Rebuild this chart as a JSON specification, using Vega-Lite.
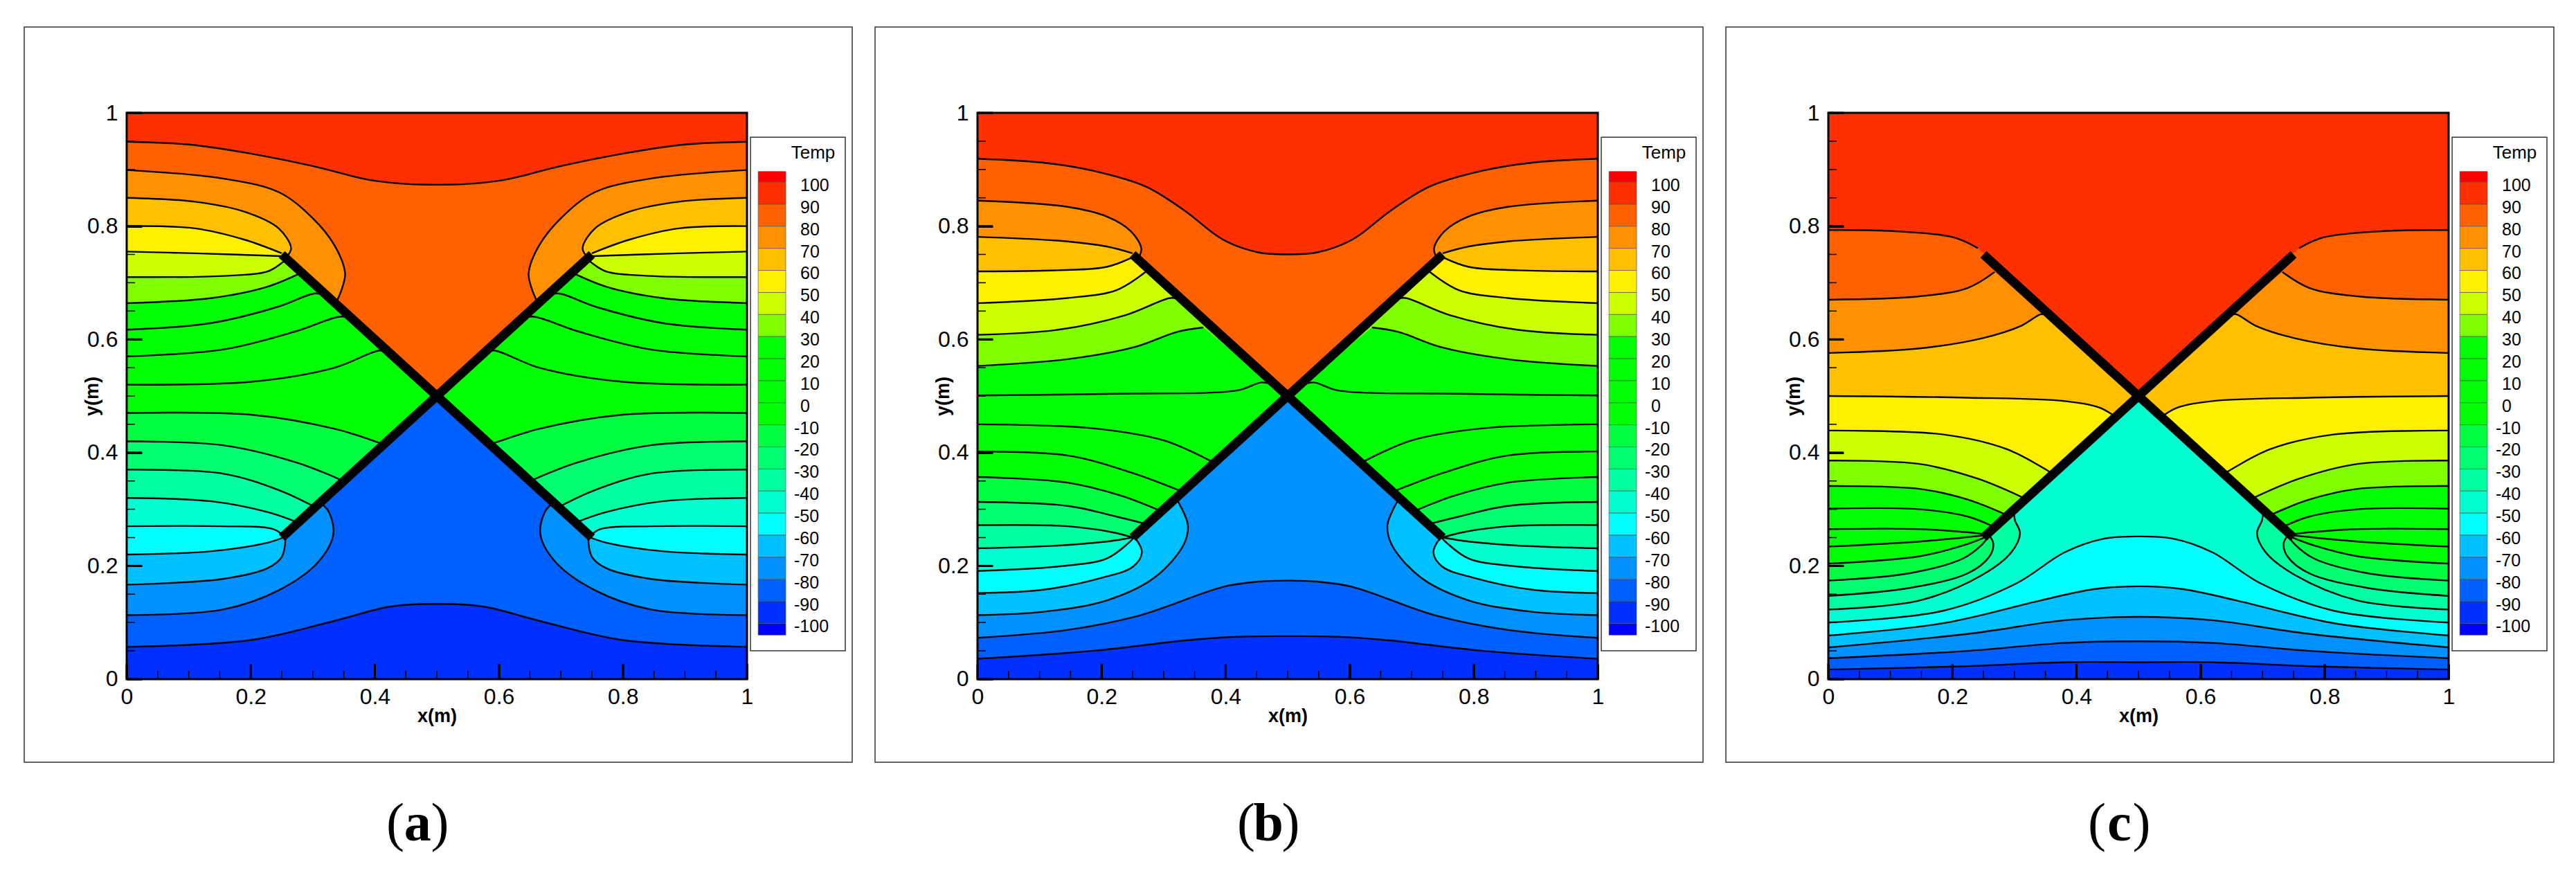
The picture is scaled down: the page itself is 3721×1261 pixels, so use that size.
{
"$schema":"https://vega.github.io/schema/vega-lite/v6.json",
"padding":{"left":34,"top":38,"right":0,"bottom":0},
"background":"white",
"config":{"view":{"stroke":"#333","strokeWidth":1.5,"fill":"white"},"font":"Liberation Sans"},
"spacing":{"column":33},
"bounds":"flush",
"resolve":{"axis":{"x":"independent","y":"independent"}},
"facet":{"column":{"field":"p","type":"nominal","header":null}},
"datasets":{
"plot":[{"l":100,"x":0,"x2":1,"y":0,"y2":1}],
"plates":[{"id":1,"x":0.25,"y":0.75},{"id":1,"x":0.75,"y":0.25},{"id":2,"x":0.25,"y":0.25},{"id":2,"x":0.75,"y":0.75}],
"xticks":[{"x":0.05,"y":0,"y2":0.0147},{"x":0.1,"y":0,"y2":0.0147},{"x":0.15,"y":0,"y2":0.0147},{"x":0.25,"y":0,"y2":0.0147},{"x":0.3,"y":0,"y2":0.0147},{"x":0.35,"y":0,"y2":0.0147},{"x":0.45,"y":0,"y2":0.0147},{"x":0.5,"y":0,"y2":0.0147},{"x":0.55,"y":0,"y2":0.0147},{"x":0.65,"y":0,"y2":0.0147},{"x":0.7,"y":0,"y2":0.0147},{"x":0.75,"y":0,"y2":0.0147},{"x":0.85,"y":0,"y2":0.0147},{"x":0.9,"y":0,"y2":0.0147},{"x":0.95,"y":0,"y2":0.0147}],
"yticks":[{"y":0.05,"x":0,"x2":0.0134},{"y":0.1,"x":0,"x2":0.0134},{"y":0.15,"x":0,"x2":0.0134},{"y":0.25,"x":0,"x2":0.0134},{"y":0.3,"x":0,"x2":0.0134},{"y":0.35,"x":0,"x2":0.0134},{"y":0.45,"x":0,"x2":0.0134},{"y":0.5,"x":0,"x2":0.0134},{"y":0.55,"x":0,"x2":0.0134},{"y":0.65,"x":0,"x2":0.0134},{"y":0.7,"x":0,"x2":0.0134},{"y":0.75,"x":0,"x2":0.0134},{"y":0.85,"x":0,"x2":0.0134},{"y":0.9,"x":0,"x2":0.0134},{"y":0.95,"x":0,"x2":0.0134}],
"xmajor":[{"x":0,"y":0,"y2":0.0269},{"x":0.2,"y":0,"y2":0.0269},{"x":0.4,"y":0,"y2":0.0269},{"x":0.6,"y":0,"y2":0.0269},{"x":0.8,"y":0,"y2":0.0269},{"x":1,"y":0,"y2":0.0269}],
"ymajor":[{"y":0,"x":0,"x2":0.0246},{"y":0.2,"x":0,"x2":0.0246},{"y":0.4,"x":0,"x2":0.0246},{"y":0.6,"x":0,"x2":0.0246},{"y":0.8,"x":0,"x2":0.0246},{"y":1,"x":0,"x2":0.0246}],
"cells":[{"l":110,"x":1.018,"x2":1.0625,"y":0.8965,"y2":0.8776},{"l":100,"x":1.018,"x2":1.0625,"y":0.8776,"y2":0.8386},{"l":90,"x":1.018,"x2":1.0625,"y":0.8386,"y2":0.7997},{"l":80,"x":1.018,"x2":1.0625,"y":0.7997,"y2":0.7607},{"l":70,"x":1.018,"x2":1.0625,"y":0.7607,"y2":0.7218},{"l":60,"x":1.018,"x2":1.0625,"y":0.7218,"y2":0.6828},{"l":50,"x":1.018,"x2":1.0625,"y":0.6828,"y2":0.6438},{"l":40,"x":1.018,"x2":1.0625,"y":0.6438,"y2":0.6049},{"l":30,"x":1.018,"x2":1.0625,"y":0.6049,"y2":0.5659},{"l":20,"x":1.018,"x2":1.0625,"y":0.5659,"y2":0.527},{"l":10,"x":1.018,"x2":1.0625,"y":0.527,"y2":0.488},{"l":0,"x":1.018,"x2":1.0625,"y":0.488,"y2":0.449},{"l":-10,"x":1.018,"x2":1.0625,"y":0.449,"y2":0.4101},{"l":-20,"x":1.018,"x2":1.0625,"y":0.4101,"y2":0.3711},{"l":-30,"x":1.018,"x2":1.0625,"y":0.3711,"y2":0.3322},{"l":-40,"x":1.018,"x2":1.0625,"y":0.3322,"y2":0.2932},{"l":-50,"x":1.018,"x2":1.0625,"y":0.2932,"y2":0.2542},{"l":-60,"x":1.018,"x2":1.0625,"y":0.2542,"y2":0.2153},{"l":-70,"x":1.018,"x2":1.0625,"y":0.2153,"y2":0.1763},{"l":-80,"x":1.018,"x2":1.0625,"y":0.1763,"y2":0.1374},{"l":-90,"x":1.018,"x2":1.0625,"y":0.1374,"y2":0.0984},{"l":-100,"x":1.018,"x2":1.0625,"y":0.0984,"y2":0.0779}],
"labels":[{"t":"100","x":1.086,"y":0.8716},{"t":"90","x":1.086,"y":0.8326},{"t":"80","x":1.086,"y":0.7937},{"t":"70","x":1.086,"y":0.7547},{"t":"60","x":1.086,"y":0.7158},{"t":"50","x":1.086,"y":0.6768},{"t":"40","x":1.086,"y":0.6378},{"t":"30","x":1.086,"y":0.5989},{"t":"20","x":1.086,"y":0.5599},{"t":"10","x":1.086,"y":0.521},{"t":"0","x":1.086,"y":0.482},{"t":"-10","x":1.0759,"y":0.443},{"t":"-20","x":1.0759,"y":0.4041},{"t":"-30","x":1.0759,"y":0.3651},{"t":"-40","x":1.0759,"y":0.3262},{"t":"-50","x":1.0759,"y":0.2872},{"t":"-60","x":1.0759,"y":0.2482},{"t":"-70","x":1.0759,"y":0.2093},{"t":"-80","x":1.0759,"y":0.1703},{"t":"-90","x":1.0759,"y":0.1314},{"t":"-100","x":1.0759,"y":0.0924}]
},
"data":{"values":[
{"p":"a","c":"(","x":0.433,"y":-0.257},{"p":"a","c":"a","x":0.469,"y":-0.257},{"p":"a","c":")","x":0.505,"y":-0.257},
{"p":"b","c":"(","x":0.433,"y":-0.257},{"p":"b","c":"b","x":0.469,"y":-0.257},{"p":"b","c":")","x":0.505,"y":-0.257},
{"p":"c","c":"(","x":0.433,"y":-0.257},{"p":"c","c":"c","x":0.469,"y":-0.257},{"p":"c","c":")","x":0.505,"y":-0.257},

{"p":"a","l":90,"x":0,"y":0.949},{"p":"a","l":90,"x":0.1,"y":0.944},{"p":"a","l":90,"x":0.2,"y":0.928},{"p":"a","l":90,"x":0.3,"y":0.906},{"p":"a","l":90,"x":0.4,"y":0.88},{"p":"a","l":90,"x":0.5,"y":0.873},{"p":"a","l":90,"x":0.6,"y":0.88},{"p":"a","l":90,"x":0.7,"y":0.906},{"p":"a","l":90,"x":0.8,"y":0.928},{"p":"a","l":90,"x":0.9,"y":0.944},{"p":"a","l":90,"x":1,"y":0.949},{"p":"a","l":90,"s":"F","x":1,"y":0.949},{"p":"a","l":90,"s":"F","x":1,"y":0},{"p":"a","l":90,"s":"F","x":1,"y":0},{"p":"a","l":90,"s":"F","x":0,"y":0},{"p":"a","l":90,"s":"F","x":0,"y":0},
{"p":"a","l":80,"x":0,"y":0.899},{"p":"a","l":80,"x":0.155,"y":0.884},{"p":"a","l":80,"x":0.245,"y":0.86},{"p":"a","l":80,"x":0.299,"y":0.815},{"p":"a","l":80,"x":0.335,"y":0.766},{"p":"a","l":80,"x":0.352,"y":0.717},{"p":"a","l":80,"x":0.348,"y":0.693},{"p":"a","l":80,"x":0.339,"y":0.668},{"p":"a","l":80,"s":"F","x":0.339,"y":0.668},{"p":"a","l":80,"s":"F","x":0.5,"y":0.5},{"p":"a","l":80,"s":"F","x":0.5,"y":0.5},{"p":"a","l":80,"s":"F","x":0.661,"y":0.668},{"p":"a","l":80,"s":"R","x":0.661,"y":0.668},{"p":"a","l":80,"s":"R","x":0.652,"y":0.693},{"p":"a","l":80,"s":"R","x":0.648,"y":0.717},{"p":"a","l":80,"s":"R","x":0.665,"y":0.766},{"p":"a","l":80,"s":"R","x":0.701,"y":0.815},{"p":"a","l":80,"s":"R","x":0.755,"y":0.86},{"p":"a","l":80,"s":"R","x":0.845,"y":0.884},{"p":"a","l":80,"s":"R","x":1,"y":0.899},{"p":"a","l":80,"s":"F","x":1,"y":0.899},{"p":"a","l":80,"s":"F","x":1,"y":0},{"p":"a","l":80,"s":"F","x":1,"y":0},{"p":"a","l":80,"s":"F","x":0,"y":0},{"p":"a","l":80,"s":"F","x":0,"y":0},
{"p":"a","l":70,"x":0,"y":0.85},{"p":"a","l":70,"x":0.11,"y":0.843},{"p":"a","l":70,"x":0.191,"y":0.825},{"p":"a","l":70,"x":0.245,"y":0.796},{"p":"a","l":70,"x":0.265,"y":0.761},{"p":"a","l":70,"x":0.258,"y":0.746},{"p":"a","l":70,"s":"F","x":0.258,"y":0.746},{"p":"a","l":70,"s":"F","x":0.5,"y":0.5},{"p":"a","l":70,"s":"F","x":0.5,"y":0.5},{"p":"a","l":70,"s":"F","x":0.742,"y":0.746},{"p":"a","l":70,"s":"R","x":0.742,"y":0.746},{"p":"a","l":70,"s":"R","x":0.735,"y":0.761},{"p":"a","l":70,"s":"R","x":0.755,"y":0.796},{"p":"a","l":70,"s":"R","x":0.809,"y":0.825},{"p":"a","l":70,"s":"R","x":0.89,"y":0.843},{"p":"a","l":70,"s":"R","x":1,"y":0.85},{"p":"a","l":70,"s":"F","x":1,"y":0.85},{"p":"a","l":70,"s":"F","x":1,"y":0},{"p":"a","l":70,"s":"F","x":1,"y":0},{"p":"a","l":70,"s":"F","x":0,"y":0},{"p":"a","l":70,"s":"F","x":0,"y":0},
{"p":"a","l":60,"x":0,"y":0.8},{"p":"a","l":60,"x":0.11,"y":0.796},{"p":"a","l":60,"x":0.19,"y":0.776},{"p":"a","l":60,"x":0.25,"y":0.752},{"p":"a","l":60,"s":"F","x":0.25,"y":0.752},{"p":"a","l":60,"s":"F","x":0.5,"y":0.5},{"p":"a","l":60,"s":"F","x":0.5,"y":0.5},{"p":"a","l":60,"s":"F","x":0.75,"y":0.752},{"p":"a","l":60,"s":"R","x":0.75,"y":0.752},{"p":"a","l":60,"s":"R","x":0.81,"y":0.776},{"p":"a","l":60,"s":"R","x":0.89,"y":0.796},{"p":"a","l":60,"s":"R","x":1,"y":0.8},{"p":"a","l":60,"s":"F","x":1,"y":0.8},{"p":"a","l":60,"s":"F","x":1,"y":0},{"p":"a","l":60,"s":"F","x":1,"y":0},{"p":"a","l":60,"s":"F","x":0,"y":0},{"p":"a","l":60,"s":"F","x":0,"y":0},
{"p":"a","l":50,"x":0,"y":0.755},{"p":"a","l":50,"x":0.11,"y":0.752},{"p":"a","l":50,"x":0.25,"y":0.747},{"p":"a","l":50,"s":"F","x":0.25,"y":0.747},{"p":"a","l":50,"s":"F","x":0.5,"y":0.5},{"p":"a","l":50,"s":"F","x":0.5,"y":0.5},{"p":"a","l":50,"s":"F","x":0.75,"y":0.747},{"p":"a","l":50,"s":"R","x":0.75,"y":0.747},{"p":"a","l":50,"s":"R","x":0.89,"y":0.752},{"p":"a","l":50,"s":"R","x":1,"y":0.755},{"p":"a","l":50,"s":"F","x":1,"y":0.755},{"p":"a","l":50,"s":"F","x":1,"y":0},{"p":"a","l":50,"s":"F","x":1,"y":0},{"p":"a","l":50,"s":"F","x":0,"y":0},{"p":"a","l":50,"s":"F","x":0,"y":0},
{"p":"a","l":40,"x":0,"y":0.71},{"p":"a","l":40,"x":0.155,"y":0.712},{"p":"a","l":40,"x":0.227,"y":0.72},{"p":"a","l":40,"x":0.25,"y":0.735},{"p":"a","l":40,"x":0.258,"y":0.742},{"p":"a","l":40,"s":"F","x":0.258,"y":0.742},{"p":"a","l":40,"s":"F","x":0.5,"y":0.5},{"p":"a","l":40,"s":"F","x":0.5,"y":0.5},{"p":"a","l":40,"s":"F","x":0.742,"y":0.742},{"p":"a","l":40,"s":"R","x":0.742,"y":0.742},{"p":"a","l":40,"s":"R","x":0.75,"y":0.735},{"p":"a","l":40,"s":"R","x":0.773,"y":0.72},{"p":"a","l":40,"s":"R","x":0.845,"y":0.712},{"p":"a","l":40,"s":"R","x":1,"y":0.71},{"p":"a","l":40,"s":"F","x":1,"y":0.71},{"p":"a","l":40,"s":"F","x":1,"y":0},{"p":"a","l":40,"s":"F","x":1,"y":0},{"p":"a","l":40,"s":"F","x":0,"y":0},{"p":"a","l":40,"s":"F","x":0,"y":0},
{"p":"a","l":30,"x":0,"y":0.664},{"p":"a","l":30,"x":0.137,"y":0.673},{"p":"a","l":30,"x":0.227,"y":0.693},{"p":"a","l":30,"x":0.282,"y":0.718},{"p":"a","l":30,"s":"F","x":0.282,"y":0.718},{"p":"a","l":30,"s":"F","x":0.5,"y":0.5},{"p":"a","l":30,"s":"F","x":0.5,"y":0.5},{"p":"a","l":30,"s":"F","x":0.718,"y":0.718},{"p":"a","l":30,"s":"R","x":0.718,"y":0.718},{"p":"a","l":30,"s":"R","x":0.773,"y":0.693},{"p":"a","l":30,"s":"R","x":0.863,"y":0.673},{"p":"a","l":30,"s":"R","x":1,"y":0.664},{"p":"a","l":30,"s":"F","x":1,"y":0.664},{"p":"a","l":30,"s":"F","x":1,"y":0},{"p":"a","l":30,"s":"F","x":1,"y":0},{"p":"a","l":30,"s":"F","x":0,"y":0},{"p":"a","l":30,"s":"F","x":0,"y":0},
{"p":"a","l":20,"x":0,"y":0.617},{"p":"a","l":20,"x":0.137,"y":0.629},{"p":"a","l":20,"x":0.245,"y":0.658},{"p":"a","l":20,"x":0.303,"y":0.681},{"p":"a","l":20,"x":0.32,"y":0.678},{"p":"a","l":20,"s":"F","x":0.32,"y":0.678},{"p":"a","l":20,"s":"F","x":0.5,"y":0.5},{"p":"a","l":20,"s":"F","x":0.5,"y":0.5},{"p":"a","l":20,"s":"F","x":0.68,"y":0.678},{"p":"a","l":20,"s":"R","x":0.68,"y":0.678},{"p":"a","l":20,"s":"R","x":0.697,"y":0.681},{"p":"a","l":20,"s":"R","x":0.755,"y":0.658},{"p":"a","l":20,"s":"R","x":0.863,"y":0.629},{"p":"a","l":20,"s":"R","x":1,"y":0.617},{"p":"a","l":20,"s":"F","x":1,"y":0.617},{"p":"a","l":20,"s":"F","x":1,"y":0},{"p":"a","l":20,"s":"F","x":1,"y":0},{"p":"a","l":20,"s":"F","x":0,"y":0},{"p":"a","l":20,"s":"F","x":0,"y":0},
{"p":"a","l":10,"x":0,"y":0.57},{"p":"a","l":10,"x":0.155,"y":0.582},{"p":"a","l":10,"x":0.272,"y":0.614},{"p":"a","l":10,"x":0.343,"y":0.64},{"p":"a","l":10,"x":0.36,"y":0.638},{"p":"a","l":10,"s":"F","x":0.36,"y":0.638},{"p":"a","l":10,"s":"F","x":0.5,"y":0.5},{"p":"a","l":10,"s":"F","x":0.5,"y":0.5},{"p":"a","l":10,"s":"F","x":0.64,"y":0.638},{"p":"a","l":10,"s":"R","x":0.64,"y":0.638},{"p":"a","l":10,"s":"R","x":0.657,"y":0.64},{"p":"a","l":10,"s":"R","x":0.728,"y":0.614},{"p":"a","l":10,"s":"R","x":0.845,"y":0.582},{"p":"a","l":10,"s":"R","x":1,"y":0.57},{"p":"a","l":10,"s":"F","x":1,"y":0.57},{"p":"a","l":10,"s":"F","x":1,"y":0},{"p":"a","l":10,"s":"F","x":1,"y":0},{"p":"a","l":10,"s":"F","x":0,"y":0},{"p":"a","l":10,"s":"F","x":0,"y":0},
{"p":"a","l":0,"x":0,"y":0.52},{"p":"a","l":0,"x":0.2,"y":0.525},{"p":"a","l":0,"x":0.335,"y":0.55},{"p":"a","l":0,"x":0.406,"y":0.58},{"p":"a","l":0,"x":0.42,"y":0.578},{"p":"a","l":0,"s":"F","x":0.42,"y":0.578},{"p":"a","l":0,"s":"F","x":0.5,"y":0.5},{"p":"a","l":0,"s":"F","x":0.5,"y":0.5},{"p":"a","l":0,"s":"F","x":0.58,"y":0.578},{"p":"a","l":0,"s":"R","x":0.58,"y":0.578},{"p":"a","l":0,"s":"R","x":0.594,"y":0.58},{"p":"a","l":0,"s":"R","x":0.665,"y":0.55},{"p":"a","l":0,"s":"R","x":0.8,"y":0.525},{"p":"a","l":0,"s":"R","x":1,"y":0.52},{"p":"a","l":0,"s":"F","x":1,"y":0.52},{"p":"a","l":0,"s":"F","x":1,"y":0},{"p":"a","l":0,"s":"F","x":1,"y":0},{"p":"a","l":0,"s":"F","x":0,"y":0},{"p":"a","l":0,"s":"F","x":0,"y":0},
{"p":"a","l":-10,"x":0,"y":0.47},{"p":"a","l":-10,"x":0.2,"y":0.467},{"p":"a","l":-10,"x":0.335,"y":0.442},{"p":"a","l":-10,"x":0.41,"y":0.416},{"p":"a","l":-10,"s":"F","x":0.41,"y":0.416},{"p":"a","l":-10,"s":"F","x":0.5,"y":0.5},{"p":"a","l":-10,"s":"F","x":0.5,"y":0.5},{"p":"a","l":-10,"s":"F","x":0.59,"y":0.416},{"p":"a","l":-10,"s":"R","x":0.59,"y":0.416},{"p":"a","l":-10,"s":"R","x":0.665,"y":0.442},{"p":"a","l":-10,"s":"R","x":0.8,"y":0.467},{"p":"a","l":-10,"s":"R","x":1,"y":0.47},{"p":"a","l":-10,"s":"F","x":1,"y":0.47},{"p":"a","l":-10,"s":"F","x":1,"y":0},{"p":"a","l":-10,"s":"F","x":1,"y":0},{"p":"a","l":-10,"s":"F","x":0,"y":0},{"p":"a","l":-10,"s":"F","x":0,"y":0},
{"p":"a","l":-20,"x":0,"y":0.42},{"p":"a","l":-20,"x":0.155,"y":0.413},{"p":"a","l":-20,"x":0.272,"y":0.383},{"p":"a","l":-20,"x":0.345,"y":0.352},{"p":"a","l":-20,"s":"F","x":0.345,"y":0.352},{"p":"a","l":-20,"s":"F","x":0.5,"y":0.5},{"p":"a","l":-20,"s":"F","x":0.5,"y":0.5},{"p":"a","l":-20,"s":"F","x":0.655,"y":0.352},{"p":"a","l":-20,"s":"R","x":0.655,"y":0.352},{"p":"a","l":-20,"s":"R","x":0.728,"y":0.383},{"p":"a","l":-20,"s":"R","x":0.845,"y":0.413},{"p":"a","l":-20,"s":"R","x":1,"y":0.42},{"p":"a","l":-20,"s":"F","x":1,"y":0.42},{"p":"a","l":-20,"s":"F","x":1,"y":0},{"p":"a","l":-20,"s":"F","x":1,"y":0},{"p":"a","l":-20,"s":"F","x":0,"y":0},{"p":"a","l":-20,"s":"F","x":0,"y":0},
{"p":"a","l":-30,"x":0,"y":0.37},{"p":"a","l":-30,"x":0.155,"y":0.363},{"p":"a","l":-30,"x":0.245,"y":0.334},{"p":"a","l":-30,"x":0.3,"y":0.306},{"p":"a","l":-30,"s":"F","x":0.3,"y":0.306},{"p":"a","l":-30,"s":"F","x":0.5,"y":0.5},{"p":"a","l":-30,"s":"F","x":0.5,"y":0.5},{"p":"a","l":-30,"s":"F","x":0.7,"y":0.306},{"p":"a","l":-30,"s":"R","x":0.7,"y":0.306},{"p":"a","l":-30,"s":"R","x":0.755,"y":0.334},{"p":"a","l":-30,"s":"R","x":0.845,"y":0.363},{"p":"a","l":-30,"s":"R","x":1,"y":0.37},{"p":"a","l":-30,"s":"F","x":1,"y":0.37},{"p":"a","l":-30,"s":"F","x":1,"y":0},{"p":"a","l":-30,"s":"F","x":1,"y":0},{"p":"a","l":-30,"s":"F","x":0,"y":0},{"p":"a","l":-30,"s":"F","x":0,"y":0},
{"p":"a","l":-40,"x":0,"y":0.32},{"p":"a","l":-40,"x":0.137,"y":0.314},{"p":"a","l":-40,"x":0.227,"y":0.295},{"p":"a","l":-40,"x":0.275,"y":0.277},{"p":"a","l":-40,"s":"F","x":0.275,"y":0.277},{"p":"a","l":-40,"s":"F","x":0.5,"y":0.5},{"p":"a","l":-40,"s":"F","x":0.5,"y":0.5},{"p":"a","l":-40,"s":"F","x":0.725,"y":0.277},{"p":"a","l":-40,"s":"R","x":0.725,"y":0.277},{"p":"a","l":-40,"s":"R","x":0.773,"y":0.295},{"p":"a","l":-40,"s":"R","x":0.863,"y":0.314},{"p":"a","l":-40,"s":"R","x":1,"y":0.32},{"p":"a","l":-40,"s":"F","x":1,"y":0.32},{"p":"a","l":-40,"s":"F","x":1,"y":0},{"p":"a","l":-40,"s":"F","x":1,"y":0},{"p":"a","l":-40,"s":"F","x":0,"y":0},{"p":"a","l":-40,"s":"F","x":0,"y":0},
{"p":"a","l":-50,"x":0,"y":0.27},{"p":"a","l":-50,"x":0.155,"y":0.27},{"p":"a","l":-50,"x":0.236,"y":0.265},{"p":"a","l":-50,"x":0.254,"y":0.252},{"p":"a","l":-50,"s":"F","x":0.254,"y":0.252},{"p":"a","l":-50,"s":"F","x":0.5,"y":0.5},{"p":"a","l":-50,"s":"F","x":0.5,"y":0.5},{"p":"a","l":-50,"s":"F","x":0.746,"y":0.252},{"p":"a","l":-50,"s":"R","x":0.746,"y":0.252},{"p":"a","l":-50,"s":"R","x":0.764,"y":0.265},{"p":"a","l":-50,"s":"R","x":0.845,"y":0.27},{"p":"a","l":-50,"s":"R","x":1,"y":0.27},{"p":"a","l":-50,"s":"F","x":1,"y":0.27},{"p":"a","l":-50,"s":"F","x":1,"y":0},{"p":"a","l":-50,"s":"F","x":1,"y":0},{"p":"a","l":-50,"s":"F","x":0,"y":0},{"p":"a","l":-50,"s":"F","x":0,"y":0},
{"p":"a","l":-60,"x":0,"y":0.22},{"p":"a","l":-60,"x":0.137,"y":0.226},{"p":"a","l":-60,"x":0.227,"y":0.241},{"p":"a","l":-60,"x":0.252,"y":0.25},{"p":"a","l":-60,"s":"F","x":0.252,"y":0.25},{"p":"a","l":-60,"s":"F","x":0.5,"y":0.5},{"p":"a","l":-60,"s":"F","x":0.5,"y":0.5},{"p":"a","l":-60,"s":"F","x":0.748,"y":0.25},{"p":"a","l":-60,"s":"R","x":0.748,"y":0.25},{"p":"a","l":-60,"s":"R","x":0.773,"y":0.241},{"p":"a","l":-60,"s":"R","x":0.863,"y":0.226},{"p":"a","l":-60,"s":"R","x":1,"y":0.22},{"p":"a","l":-60,"s":"F","x":1,"y":0.22},{"p":"a","l":-60,"s":"F","x":1,"y":0},{"p":"a","l":-60,"s":"F","x":1,"y":0},{"p":"a","l":-60,"s":"F","x":0,"y":0},{"p":"a","l":-60,"s":"F","x":0,"y":0},
{"p":"a","l":-70,"x":0,"y":0.167},{"p":"a","l":-70,"x":0.155,"y":0.177},{"p":"a","l":-70,"x":0.227,"y":0.196},{"p":"a","l":-70,"x":0.25,"y":0.216},{"p":"a","l":-70,"x":0.256,"y":0.248},{"p":"a","l":-70,"s":"F","x":0.256,"y":0.248},{"p":"a","l":-70,"s":"F","x":0.5,"y":0.5},{"p":"a","l":-70,"s":"F","x":0.5,"y":0.5},{"p":"a","l":-70,"s":"F","x":0.744,"y":0.248},{"p":"a","l":-70,"s":"R","x":0.744,"y":0.248},{"p":"a","l":-70,"s":"R","x":0.75,"y":0.216},{"p":"a","l":-70,"s":"R","x":0.773,"y":0.196},{"p":"a","l":-70,"s":"R","x":0.845,"y":0.177},{"p":"a","l":-70,"s":"R","x":1,"y":0.167},{"p":"a","l":-70,"s":"F","x":1,"y":0.167},{"p":"a","l":-70,"s":"F","x":1,"y":0},{"p":"a","l":-70,"s":"F","x":1,"y":0},{"p":"a","l":-70,"s":"F","x":0,"y":0},{"p":"a","l":-70,"s":"F","x":0,"y":0},
{"p":"a","l":-80,"x":0,"y":0.113},{"p":"a","l":-80,"x":0.155,"y":0.123},{"p":"a","l":-80,"x":0.245,"y":0.157},{"p":"a","l":-80,"x":0.308,"y":0.206},{"p":"a","l":-80,"x":0.333,"y":0.255},{"p":"a","l":-80,"x":0.326,"y":0.295},{"p":"a","l":-80,"x":0.312,"y":0.312},{"p":"a","l":-80,"s":"F","x":0.312,"y":0.312},{"p":"a","l":-80,"s":"F","x":0.5,"y":0.5},{"p":"a","l":-80,"s":"F","x":0.5,"y":0.5},{"p":"a","l":-80,"s":"F","x":0.688,"y":0.312},{"p":"a","l":-80,"s":"R","x":0.688,"y":0.312},{"p":"a","l":-80,"s":"R","x":0.674,"y":0.295},{"p":"a","l":-80,"s":"R","x":0.667,"y":0.255},{"p":"a","l":-80,"s":"R","x":0.692,"y":0.206},{"p":"a","l":-80,"s":"R","x":0.755,"y":0.157},{"p":"a","l":-80,"s":"R","x":0.845,"y":0.123},{"p":"a","l":-80,"s":"R","x":1,"y":0.113},{"p":"a","l":-80,"s":"F","x":1,"y":0.113},{"p":"a","l":-80,"s":"F","x":1,"y":0},{"p":"a","l":-80,"s":"F","x":1,"y":0},{"p":"a","l":-80,"s":"F","x":0,"y":0},{"p":"a","l":-80,"s":"F","x":0,"y":0},
{"p":"a","l":-90,"x":0,"y":0.057},{"p":"a","l":-90,"x":0.2,"y":0.069},{"p":"a","l":-90,"x":0.335,"y":0.103},{"p":"a","l":-90,"x":0.424,"y":0.128},{"p":"a","l":-90,"x":0.5,"y":0.133},{"p":"a","l":-90,"x":0.576,"y":0.128},{"p":"a","l":-90,"x":0.665,"y":0.103},{"p":"a","l":-90,"x":0.8,"y":0.069},{"p":"a","l":-90,"x":1,"y":0.057},{"p":"a","l":-90,"s":"F","x":1,"y":0.057},{"p":"a","l":-90,"s":"F","x":1,"y":0},{"p":"a","l":-90,"s":"F","x":1,"y":0},{"p":"a","l":-90,"s":"F","x":0,"y":0},{"p":"a","l":-90,"s":"F","x":0,"y":0},

{"p":"b","l":90,"x":0,"y":0.919},{"p":"b","l":90,"x":0.106,"y":0.912},{"p":"b","l":90,"x":0.185,"y":0.898},{"p":"b","l":90,"x":0.271,"y":0.87},{"p":"b","l":90,"x":0.333,"y":0.828},{"p":"b","l":90,"x":0.396,"y":0.776},{"p":"b","l":90,"x":0.451,"y":0.754},{"p":"b","l":90,"x":0.5,"y":0.75},{"p":"b","l":90,"x":0.549,"y":0.754},{"p":"b","l":90,"x":0.604,"y":0.776},{"p":"b","l":90,"x":0.667,"y":0.828},{"p":"b","l":90,"x":0.729,"y":0.87},{"p":"b","l":90,"x":0.815,"y":0.898},{"p":"b","l":90,"x":0.894,"y":0.912},{"p":"b","l":90,"x":1,"y":0.919},{"p":"b","l":90,"s":"F","x":1,"y":0.919},{"p":"b","l":90,"s":"F","x":1,"y":0},{"p":"b","l":90,"s":"F","x":1,"y":0},{"p":"b","l":90,"s":"F","x":0,"y":0},{"p":"b","l":90,"s":"F","x":0,"y":0},
{"p":"b","l":80,"x":0,"y":0.845},{"p":"b","l":80,"x":0.145,"y":0.834},{"p":"b","l":80,"x":0.208,"y":0.817},{"p":"b","l":80,"x":0.247,"y":0.791},{"p":"b","l":80,"x":0.264,"y":0.761},{"p":"b","l":80,"x":0.26,"y":0.745},{"p":"b","l":80,"s":"F","x":0.26,"y":0.745},{"p":"b","l":80,"s":"F","x":0.5,"y":0.5},{"p":"b","l":80,"s":"F","x":0.5,"y":0.5},{"p":"b","l":80,"s":"F","x":0.74,"y":0.745},{"p":"b","l":80,"s":"R","x":0.74,"y":0.745},{"p":"b","l":80,"s":"R","x":0.736,"y":0.761},{"p":"b","l":80,"s":"R","x":0.753,"y":0.791},{"p":"b","l":80,"s":"R","x":0.792,"y":0.817},{"p":"b","l":80,"s":"R","x":0.855,"y":0.834},{"p":"b","l":80,"s":"R","x":1,"y":0.845},{"p":"b","l":80,"s":"F","x":1,"y":0.845},{"p":"b","l":80,"s":"F","x":1,"y":0},{"p":"b","l":80,"s":"F","x":1,"y":0},{"p":"b","l":80,"s":"F","x":0,"y":0},{"p":"b","l":80,"s":"F","x":0,"y":0},
{"p":"b","l":70,"x":0,"y":0.781},{"p":"b","l":70,"x":0.145,"y":0.773},{"p":"b","l":70,"x":0.208,"y":0.764},{"p":"b","l":70,"x":0.25,"y":0.752},{"p":"b","l":70,"s":"F","x":0.25,"y":0.752},{"p":"b","l":70,"s":"F","x":0.5,"y":0.5},{"p":"b","l":70,"s":"F","x":0.5,"y":0.5},{"p":"b","l":70,"s":"F","x":0.75,"y":0.752},{"p":"b","l":70,"s":"R","x":0.75,"y":0.752},{"p":"b","l":70,"s":"R","x":0.792,"y":0.764},{"p":"b","l":70,"s":"R","x":0.855,"y":0.773},{"p":"b","l":70,"s":"R","x":1,"y":0.781},{"p":"b","l":70,"s":"F","x":1,"y":0.781},{"p":"b","l":70,"s":"F","x":1,"y":0},{"p":"b","l":70,"s":"F","x":1,"y":0},{"p":"b","l":70,"s":"F","x":0,"y":0},{"p":"b","l":70,"s":"F","x":0,"y":0},
{"p":"b","l":60,"x":0,"y":0.72},{"p":"b","l":60,"x":0.13,"y":0.722},{"p":"b","l":60,"x":0.208,"y":0.728},{"p":"b","l":60,"x":0.25,"y":0.745},{"p":"b","l":60,"s":"F","x":0.25,"y":0.745},{"p":"b","l":60,"s":"F","x":0.5,"y":0.5},{"p":"b","l":60,"s":"F","x":0.5,"y":0.5},{"p":"b","l":60,"s":"F","x":0.75,"y":0.745},{"p":"b","l":60,"s":"R","x":0.75,"y":0.745},{"p":"b","l":60,"s":"R","x":0.792,"y":0.728},{"p":"b","l":60,"s":"R","x":0.87,"y":0.722},{"p":"b","l":60,"s":"R","x":1,"y":0.72},{"p":"b","l":60,"s":"F","x":1,"y":0.72},{"p":"b","l":60,"s":"F","x":1,"y":0},{"p":"b","l":60,"s":"F","x":1,"y":0},{"p":"b","l":60,"s":"F","x":0,"y":0},{"p":"b","l":60,"s":"F","x":0,"y":0},
{"p":"b","l":50,"x":0,"y":0.664},{"p":"b","l":50,"x":0.145,"y":0.673},{"p":"b","l":50,"x":0.224,"y":0.687},{"p":"b","l":50,"x":0.272,"y":0.72},{"p":"b","l":50,"s":"F","x":0.272,"y":0.72},{"p":"b","l":50,"s":"F","x":0.5,"y":0.5},{"p":"b","l":50,"s":"F","x":0.5,"y":0.5},{"p":"b","l":50,"s":"F","x":0.728,"y":0.72},{"p":"b","l":50,"s":"R","x":0.728,"y":0.72},{"p":"b","l":50,"s":"R","x":0.776,"y":0.687},{"p":"b","l":50,"s":"R","x":0.855,"y":0.673},{"p":"b","l":50,"s":"R","x":1,"y":0.664},{"p":"b","l":50,"s":"F","x":1,"y":0.664},{"p":"b","l":50,"s":"F","x":1,"y":0},{"p":"b","l":50,"s":"F","x":1,"y":0},{"p":"b","l":50,"s":"F","x":0,"y":0},{"p":"b","l":50,"s":"F","x":0,"y":0},
{"p":"b","l":40,"x":0,"y":0.608},{"p":"b","l":40,"x":0.13,"y":0.617},{"p":"b","l":40,"x":0.239,"y":0.643},{"p":"b","l":40,"x":0.31,"y":0.673},{"p":"b","l":40,"x":0.322,"y":0.672},{"p":"b","l":40,"s":"F","x":0.322,"y":0.672},{"p":"b","l":40,"s":"F","x":0.5,"y":0.5},{"p":"b","l":40,"s":"F","x":0.5,"y":0.5},{"p":"b","l":40,"s":"F","x":0.678,"y":0.672},{"p":"b","l":40,"s":"R","x":0.678,"y":0.672},{"p":"b","l":40,"s":"R","x":0.69,"y":0.673},{"p":"b","l":40,"s":"R","x":0.761,"y":0.643},{"p":"b","l":40,"s":"R","x":0.87,"y":0.617},{"p":"b","l":40,"s":"R","x":1,"y":0.608},{"p":"b","l":40,"s":"F","x":1,"y":0.608},{"p":"b","l":40,"s":"F","x":1,"y":0},{"p":"b","l":40,"s":"F","x":1,"y":0},{"p":"b","l":40,"s":"F","x":0,"y":0},{"p":"b","l":40,"s":"F","x":0,"y":0},
{"p":"b","l":30,"x":0,"y":0.553},{"p":"b","l":30,"x":0.145,"y":0.565},{"p":"b","l":30,"x":0.255,"y":0.587},{"p":"b","l":30,"x":0.321,"y":0.613},{"p":"b","l":30,"x":0.364,"y":0.621},{"p":"b","l":30,"s":"F","x":0.364,"y":0.621},{"p":"b","l":30,"s":"F","x":0.5,"y":0.5},{"p":"b","l":30,"s":"F","x":0.5,"y":0.5},{"p":"b","l":30,"s":"F","x":0.636,"y":0.621},{"p":"b","l":30,"s":"R","x":0.636,"y":0.621},{"p":"b","l":30,"s":"R","x":0.679,"y":0.613},{"p":"b","l":30,"s":"R","x":0.745,"y":0.587},{"p":"b","l":30,"s":"R","x":0.855,"y":0.565},{"p":"b","l":30,"s":"R","x":1,"y":0.553},{"p":"b","l":30,"s":"F","x":1,"y":0.553},{"p":"b","l":30,"s":"F","x":1,"y":0},{"p":"b","l":30,"s":"F","x":1,"y":0},{"p":"b","l":30,"s":"F","x":0,"y":0},{"p":"b","l":30,"s":"F","x":0,"y":0},
{"p":"b","l":20,"x":0,"y":0.501},{"p":"b","l":20,"x":0.224,"y":0.504},{"p":"b","l":20,"x":0.419,"y":0.51},{"p":"b","l":20,"x":0.458,"y":0.524},{"p":"b","l":20,"x":0.475,"y":0.52},{"p":"b","l":20,"s":"F","x":0.475,"y":0.52},{"p":"b","l":20,"s":"F","x":0.5,"y":0.5},{"p":"b","l":20,"s":"F","x":0.5,"y":0.5},{"p":"b","l":20,"s":"F","x":0.525,"y":0.52},{"p":"b","l":20,"s":"R","x":0.525,"y":0.52},{"p":"b","l":20,"s":"R","x":0.542,"y":0.524},{"p":"b","l":20,"s":"R","x":0.581,"y":0.51},{"p":"b","l":20,"s":"R","x":0.776,"y":0.504},{"p":"b","l":20,"s":"R","x":1,"y":0.501},{"p":"b","l":20,"s":"F","x":1,"y":0.501},{"p":"b","l":20,"s":"F","x":1,"y":0},{"p":"b","l":20,"s":"F","x":1,"y":0},{"p":"b","l":20,"s":"F","x":0,"y":0},{"p":"b","l":20,"s":"F","x":0,"y":0},
{"p":"b","l":10,"x":0,"y":0.45},{"p":"b","l":10,"x":0.185,"y":0.443},{"p":"b","l":10,"x":0.302,"y":0.421},{"p":"b","l":10,"x":0.378,"y":0.384},{"p":"b","l":10,"s":"F","x":0.378,"y":0.384},{"p":"b","l":10,"s":"F","x":0.5,"y":0.5},{"p":"b","l":10,"s":"F","x":0.5,"y":0.5},{"p":"b","l":10,"s":"F","x":0.622,"y":0.384},{"p":"b","l":10,"s":"R","x":0.622,"y":0.384},{"p":"b","l":10,"s":"R","x":0.698,"y":0.421},{"p":"b","l":10,"s":"R","x":0.815,"y":0.443},{"p":"b","l":10,"s":"R","x":1,"y":0.45},{"p":"b","l":10,"s":"F","x":1,"y":0.45},{"p":"b","l":10,"s":"F","x":1,"y":0},{"p":"b","l":10,"s":"F","x":1,"y":0},{"p":"b","l":10,"s":"F","x":0,"y":0},{"p":"b","l":10,"s":"F","x":0,"y":0},
{"p":"b","l":0,"x":0,"y":0.402},{"p":"b","l":0,"x":0.145,"y":0.395},{"p":"b","l":0,"x":0.247,"y":0.365},{"p":"b","l":0,"x":0.328,"y":0.332},{"p":"b","l":0,"s":"F","x":0.328,"y":0.332},{"p":"b","l":0,"s":"F","x":0.5,"y":0.5},{"p":"b","l":0,"s":"F","x":0.5,"y":0.5},{"p":"b","l":0,"s":"F","x":0.672,"y":0.332},{"p":"b","l":0,"s":"R","x":0.672,"y":0.332},{"p":"b","l":0,"s":"R","x":0.753,"y":0.365},{"p":"b","l":0,"s":"R","x":0.855,"y":0.395},{"p":"b","l":0,"s":"R","x":1,"y":0.402},{"p":"b","l":0,"s":"F","x":1,"y":0.402},{"p":"b","l":0,"s":"F","x":1,"y":0},{"p":"b","l":0,"s":"F","x":1,"y":0},{"p":"b","l":0,"s":"F","x":0,"y":0},{"p":"b","l":0,"s":"F","x":0,"y":0},
{"p":"b","l":-10,"x":0,"y":0.357},{"p":"b","l":-10,"x":0.145,"y":0.347},{"p":"b","l":-10,"x":0.231,"y":0.324},{"p":"b","l":-10,"x":0.295,"y":0.297},{"p":"b","l":-10,"s":"F","x":0.295,"y":0.297},{"p":"b","l":-10,"s":"F","x":0.5,"y":0.5},{"p":"b","l":-10,"s":"F","x":0.5,"y":0.5},{"p":"b","l":-10,"s":"F","x":0.705,"y":0.297},{"p":"b","l":-10,"s":"R","x":0.705,"y":0.297},{"p":"b","l":-10,"s":"R","x":0.769,"y":0.324},{"p":"b","l":-10,"s":"R","x":0.855,"y":0.347},{"p":"b","l":-10,"s":"R","x":1,"y":0.357},{"p":"b","l":-10,"s":"F","x":1,"y":0.357},{"p":"b","l":-10,"s":"F","x":1,"y":0},{"p":"b","l":-10,"s":"F","x":1,"y":0},{"p":"b","l":-10,"s":"F","x":0,"y":0},{"p":"b","l":-10,"s":"F","x":0,"y":0},
{"p":"b","l":-20,"x":0,"y":0.313},{"p":"b","l":-20,"x":0.145,"y":0.306},{"p":"b","l":-20,"x":0.224,"y":0.287},{"p":"b","l":-20,"x":0.272,"y":0.274},{"p":"b","l":-20,"s":"F","x":0.272,"y":0.274},{"p":"b","l":-20,"s":"F","x":0.5,"y":0.5},{"p":"b","l":-20,"s":"F","x":0.5,"y":0.5},{"p":"b","l":-20,"s":"F","x":0.728,"y":0.274},{"p":"b","l":-20,"s":"R","x":0.728,"y":0.274},{"p":"b","l":-20,"s":"R","x":0.776,"y":0.287},{"p":"b","l":-20,"s":"R","x":0.855,"y":0.306},{"p":"b","l":-20,"s":"R","x":1,"y":0.313},{"p":"b","l":-20,"s":"F","x":1,"y":0.313},{"p":"b","l":-20,"s":"F","x":1,"y":0},{"p":"b","l":-20,"s":"F","x":1,"y":0},{"p":"b","l":-20,"s":"F","x":0,"y":0},{"p":"b","l":-20,"s":"F","x":0,"y":0},
{"p":"b","l":-30,"x":0,"y":0.272},{"p":"b","l":-30,"x":0.145,"y":0.27},{"p":"b","l":-30,"x":0.224,"y":0.258},{"p":"b","l":-30,"x":0.25,"y":0.25},{"p":"b","l":-30,"s":"F","x":0.25,"y":0.25},{"p":"b","l":-30,"s":"F","x":0.5,"y":0.5},{"p":"b","l":-30,"s":"F","x":0.5,"y":0.5},{"p":"b","l":-30,"s":"F","x":0.75,"y":0.25},{"p":"b","l":-30,"s":"R","x":0.75,"y":0.25},{"p":"b","l":-30,"s":"R","x":0.776,"y":0.258},{"p":"b","l":-30,"s":"R","x":0.855,"y":0.27},{"p":"b","l":-30,"s":"R","x":1,"y":0.272},{"p":"b","l":-30,"s":"F","x":1,"y":0.272},{"p":"b","l":-30,"s":"F","x":1,"y":0},{"p":"b","l":-30,"s":"F","x":1,"y":0},{"p":"b","l":-30,"s":"F","x":0,"y":0},{"p":"b","l":-30,"s":"F","x":0,"y":0},
{"p":"b","l":-40,"x":0,"y":0.231},{"p":"b","l":-40,"x":0.13,"y":0.236},{"p":"b","l":-40,"x":0.208,"y":0.243},{"p":"b","l":-40,"x":0.25,"y":0.25},{"p":"b","l":-40,"s":"F","x":0.25,"y":0.25},{"p":"b","l":-40,"s":"F","x":0.5,"y":0.5},{"p":"b","l":-40,"s":"F","x":0.5,"y":0.5},{"p":"b","l":-40,"s":"F","x":0.75,"y":0.25},{"p":"b","l":-40,"s":"R","x":0.75,"y":0.25},{"p":"b","l":-40,"s":"R","x":0.792,"y":0.243},{"p":"b","l":-40,"s":"R","x":0.87,"y":0.236},{"p":"b","l":-40,"s":"R","x":1,"y":0.231},{"p":"b","l":-40,"s":"F","x":1,"y":0.231},{"p":"b","l":-40,"s":"F","x":1,"y":0},{"p":"b","l":-40,"s":"F","x":1,"y":0},{"p":"b","l":-40,"s":"F","x":0,"y":0},{"p":"b","l":-40,"s":"F","x":0,"y":0},
{"p":"b","l":-50,"x":0,"y":0.191},{"p":"b","l":-50,"x":0.13,"y":0.199},{"p":"b","l":-50,"x":0.208,"y":0.213},{"p":"b","l":-50,"x":0.243,"y":0.24},{"p":"b","l":-50,"x":0.252,"y":0.25},{"p":"b","l":-50,"s":"F","x":0.252,"y":0.25},{"p":"b","l":-50,"s":"F","x":0.5,"y":0.5},{"p":"b","l":-50,"s":"F","x":0.5,"y":0.5},{"p":"b","l":-50,"s":"F","x":0.748,"y":0.25},{"p":"b","l":-50,"s":"R","x":0.748,"y":0.25},{"p":"b","l":-50,"s":"R","x":0.757,"y":0.24},{"p":"b","l":-50,"s":"R","x":0.792,"y":0.213},{"p":"b","l":-50,"s":"R","x":0.87,"y":0.199},{"p":"b","l":-50,"s":"R","x":1,"y":0.191},{"p":"b","l":-50,"s":"F","x":1,"y":0.191},{"p":"b","l":-50,"s":"F","x":1,"y":0},{"p":"b","l":-50,"s":"F","x":1,"y":0},{"p":"b","l":-50,"s":"F","x":0,"y":0},{"p":"b","l":-50,"s":"F","x":0,"y":0},
{"p":"b","l":-60,"x":0,"y":0.152},{"p":"b","l":-60,"x":0.106,"y":0.158},{"p":"b","l":-60,"x":0.2,"y":0.179},{"p":"b","l":-60,"x":0.251,"y":0.199},{"p":"b","l":-60,"x":0.265,"y":0.224},{"p":"b","l":-60,"x":0.255,"y":0.248},{"p":"b","l":-60,"s":"F","x":0.255,"y":0.248},{"p":"b","l":-60,"s":"F","x":0.5,"y":0.5},{"p":"b","l":-60,"s":"F","x":0.5,"y":0.5},{"p":"b","l":-60,"s":"F","x":0.745,"y":0.248},{"p":"b","l":-60,"s":"R","x":0.745,"y":0.248},{"p":"b","l":-60,"s":"R","x":0.735,"y":0.224},{"p":"b","l":-60,"s":"R","x":0.749,"y":0.199},{"p":"b","l":-60,"s":"R","x":0.8,"y":0.179},{"p":"b","l":-60,"s":"R","x":0.894,"y":0.158},{"p":"b","l":-60,"s":"R","x":1,"y":0.152},{"p":"b","l":-60,"s":"F","x":1,"y":0.152},{"p":"b","l":-60,"s":"F","x":1,"y":0},{"p":"b","l":-60,"s":"F","x":1,"y":0},{"p":"b","l":-60,"s":"F","x":0,"y":0},{"p":"b","l":-60,"s":"F","x":0,"y":0},
{"p":"b","l":-70,"x":0,"y":0.113},{"p":"b","l":-70,"x":0.106,"y":0.119},{"p":"b","l":-70,"x":0.208,"y":0.139},{"p":"b","l":-70,"x":0.286,"y":0.18},{"p":"b","l":-70,"x":0.333,"y":0.239},{"p":"b","l":-70,"x":0.339,"y":0.273},{"p":"b","l":-70,"x":0.322,"y":0.316},{"p":"b","l":-70,"s":"F","x":0.322,"y":0.316},{"p":"b","l":-70,"s":"F","x":0.5,"y":0.5},{"p":"b","l":-70,"s":"F","x":0.5,"y":0.5},{"p":"b","l":-70,"s":"F","x":0.678,"y":0.316},{"p":"b","l":-70,"s":"R","x":0.678,"y":0.316},{"p":"b","l":-70,"s":"R","x":0.661,"y":0.273},{"p":"b","l":-70,"s":"R","x":0.667,"y":0.239},{"p":"b","l":-70,"s":"R","x":0.714,"y":0.18},{"p":"b","l":-70,"s":"R","x":0.792,"y":0.139},{"p":"b","l":-70,"s":"R","x":0.894,"y":0.119},{"p":"b","l":-70,"s":"R","x":1,"y":0.113},{"p":"b","l":-70,"s":"F","x":1,"y":0.113},{"p":"b","l":-70,"s":"F","x":1,"y":0},{"p":"b","l":-70,"s":"F","x":1,"y":0},{"p":"b","l":-70,"s":"F","x":0,"y":0},{"p":"b","l":-70,"s":"F","x":0,"y":0},
{"p":"b","l":-80,"x":0,"y":0.073},{"p":"b","l":-80,"x":0.145,"y":0.087},{"p":"b","l":-80,"x":0.263,"y":0.113},{"p":"b","l":-80,"x":0.396,"y":0.163},{"p":"b","l":-80,"x":0.45,"y":0.172},{"p":"b","l":-80,"x":0.5,"y":0.174},{"p":"b","l":-80,"x":0.55,"y":0.172},{"p":"b","l":-80,"x":0.604,"y":0.163},{"p":"b","l":-80,"x":0.737,"y":0.113},{"p":"b","l":-80,"x":0.855,"y":0.087},{"p":"b","l":-80,"x":1,"y":0.073},{"p":"b","l":-80,"s":"F","x":1,"y":0.073},{"p":"b","l":-80,"s":"F","x":1,"y":0},{"p":"b","l":-80,"s":"F","x":1,"y":0},{"p":"b","l":-80,"s":"F","x":0,"y":0},{"p":"b","l":-80,"s":"F","x":0,"y":0},
{"p":"b","l":-90,"x":0,"y":0.036},{"p":"b","l":-90,"x":0.185,"y":0.05},{"p":"b","l":-90,"x":0.341,"y":0.069},{"p":"b","l":-90,"x":0.42,"y":0.075},{"p":"b","l":-90,"x":0.5,"y":0.076},{"p":"b","l":-90,"x":0.58,"y":0.075},{"p":"b","l":-90,"x":0.659,"y":0.069},{"p":"b","l":-90,"x":0.815,"y":0.05},{"p":"b","l":-90,"x":1,"y":0.036},{"p":"b","l":-90,"s":"F","x":1,"y":0.036},{"p":"b","l":-90,"s":"F","x":1,"y":0},{"p":"b","l":-90,"s":"F","x":1,"y":0},{"p":"b","l":-90,"s":"F","x":0,"y":0},{"p":"b","l":-90,"s":"F","x":0,"y":0},

{"p":"c","l":90,"x":0,"y":0.793},{"p":"c","l":90,"x":0.108,"y":0.791},{"p":"c","l":90,"x":0.202,"y":0.78},{"p":"c","l":90,"x":0.241,"y":0.761},{"p":"c","l":90,"s":"F","x":0.241,"y":0.761},{"p":"c","l":90,"s":"F","x":0.5,"y":0.5},{"p":"c","l":90,"s":"F","x":0.5,"y":0.5},{"p":"c","l":90,"s":"F","x":0.759,"y":0.761},{"p":"c","l":90,"s":"R","x":0.759,"y":0.761},{"p":"c","l":90,"s":"R","x":0.798,"y":0.78},{"p":"c","l":90,"s":"R","x":0.892,"y":0.791},{"p":"c","l":90,"s":"R","x":1,"y":0.793},{"p":"c","l":90,"s":"F","x":1,"y":0.793},{"p":"c","l":90,"s":"F","x":1,"y":0},{"p":"c","l":90,"s":"F","x":1,"y":0},{"p":"c","l":90,"s":"F","x":0,"y":0},{"p":"c","l":90,"s":"F","x":0,"y":0},
{"p":"c","l":80,"x":0,"y":0.67},{"p":"c","l":80,"x":0.147,"y":0.676},{"p":"c","l":80,"x":0.225,"y":0.691},{"p":"c","l":80,"x":0.268,"y":0.719},{"p":"c","l":80,"s":"F","x":0.268,"y":0.719},{"p":"c","l":80,"s":"F","x":0.5,"y":0.5},{"p":"c","l":80,"s":"F","x":0.5,"y":0.5},{"p":"c","l":80,"s":"F","x":0.732,"y":0.719},{"p":"c","l":80,"s":"R","x":0.732,"y":0.719},{"p":"c","l":80,"s":"R","x":0.775,"y":0.691},{"p":"c","l":80,"s":"R","x":0.853,"y":0.676},{"p":"c","l":80,"s":"R","x":1,"y":0.67},{"p":"c","l":80,"s":"F","x":1,"y":0.67},{"p":"c","l":80,"s":"F","x":1,"y":0},{"p":"c","l":80,"s":"F","x":1,"y":0},{"p":"c","l":80,"s":"F","x":0,"y":0},{"p":"c","l":80,"s":"F","x":0,"y":0},
{"p":"c","l":70,"x":0,"y":0.576},{"p":"c","l":70,"x":0.147,"y":0.584},{"p":"c","l":70,"x":0.248,"y":0.602},{"p":"c","l":70,"x":0.311,"y":0.624},{"p":"c","l":70,"x":0.342,"y":0.644},{"p":"c","l":70,"x":0.352,"y":0.644},{"p":"c","l":70,"s":"F","x":0.352,"y":0.644},{"p":"c","l":70,"s":"F","x":0.5,"y":0.5},{"p":"c","l":70,"s":"F","x":0.5,"y":0.5},{"p":"c","l":70,"s":"F","x":0.648,"y":0.644},{"p":"c","l":70,"s":"R","x":0.648,"y":0.644},{"p":"c","l":70,"s":"R","x":0.658,"y":0.644},{"p":"c","l":70,"s":"R","x":0.689,"y":0.624},{"p":"c","l":70,"s":"R","x":0.752,"y":0.602},{"p":"c","l":70,"s":"R","x":0.853,"y":0.584},{"p":"c","l":70,"s":"R","x":1,"y":0.576},{"p":"c","l":70,"s":"F","x":1,"y":0.576},{"p":"c","l":70,"s":"F","x":1,"y":0},{"p":"c","l":70,"s":"F","x":1,"y":0},{"p":"c","l":70,"s":"F","x":0,"y":0},{"p":"c","l":70,"s":"F","x":0,"y":0},
{"p":"c","l":60,"x":0,"y":0.5},{"p":"c","l":60,"x":0.225,"y":0.497},{"p":"c","l":60,"x":0.381,"y":0.491},{"p":"c","l":60,"x":0.436,"y":0.48},{"p":"c","l":60,"x":0.458,"y":0.467},{"p":"c","l":60,"s":"F","x":0.458,"y":0.467},{"p":"c","l":60,"s":"F","x":0.5,"y":0.5},{"p":"c","l":60,"s":"F","x":0.5,"y":0.5},{"p":"c","l":60,"s":"F","x":0.542,"y":0.467},{"p":"c","l":60,"s":"R","x":0.542,"y":0.467},{"p":"c","l":60,"s":"R","x":0.564,"y":0.48},{"p":"c","l":60,"s":"R","x":0.619,"y":0.491},{"p":"c","l":60,"s":"R","x":0.775,"y":0.497},{"p":"c","l":60,"s":"R","x":1,"y":0.5},{"p":"c","l":60,"s":"F","x":1,"y":0.5},{"p":"c","l":60,"s":"F","x":1,"y":0},{"p":"c","l":60,"s":"F","x":1,"y":0},{"p":"c","l":60,"s":"F","x":0,"y":0},{"p":"c","l":60,"s":"F","x":0,"y":0},
{"p":"c","l":50,"x":0,"y":0.439},{"p":"c","l":50,"x":0.186,"y":0.432},{"p":"c","l":50,"x":0.288,"y":0.406},{"p":"c","l":50,"x":0.36,"y":0.364},{"p":"c","l":50,"s":"F","x":0.36,"y":0.364},{"p":"c","l":50,"s":"F","x":0.5,"y":0.5},{"p":"c","l":50,"s":"F","x":0.5,"y":0.5},{"p":"c","l":50,"s":"F","x":0.64,"y":0.364},{"p":"c","l":50,"s":"R","x":0.64,"y":0.364},{"p":"c","l":50,"s":"R","x":0.712,"y":0.406},{"p":"c","l":50,"s":"R","x":0.814,"y":0.432},{"p":"c","l":50,"s":"R","x":1,"y":0.439},{"p":"c","l":50,"s":"F","x":1,"y":0.439},{"p":"c","l":50,"s":"F","x":1,"y":0},{"p":"c","l":50,"s":"F","x":1,"y":0},{"p":"c","l":50,"s":"F","x":0,"y":0},{"p":"c","l":50,"s":"F","x":0,"y":0},
{"p":"c","l":40,"x":0,"y":0.386},{"p":"c","l":40,"x":0.147,"y":0.38},{"p":"c","l":40,"x":0.241,"y":0.354},{"p":"c","l":40,"x":0.315,"y":0.32},{"p":"c","l":40,"s":"F","x":0.315,"y":0.32},{"p":"c","l":40,"s":"F","x":0.5,"y":0.5},{"p":"c","l":40,"s":"F","x":0.5,"y":0.5},{"p":"c","l":40,"s":"F","x":0.685,"y":0.32},{"p":"c","l":40,"s":"R","x":0.685,"y":0.32},{"p":"c","l":40,"s":"R","x":0.759,"y":0.354},{"p":"c","l":40,"s":"R","x":0.853,"y":0.38},{"p":"c","l":40,"s":"R","x":1,"y":0.386},{"p":"c","l":40,"s":"F","x":1,"y":0.386},{"p":"c","l":40,"s":"F","x":1,"y":0},{"p":"c","l":40,"s":"F","x":1,"y":0},{"p":"c","l":40,"s":"F","x":0,"y":0},{"p":"c","l":40,"s":"F","x":0,"y":0},
{"p":"c","l":30,"x":0,"y":0.341},{"p":"c","l":30,"x":0.147,"y":0.336},{"p":"c","l":30,"x":0.225,"y":0.317},{"p":"c","l":30,"x":0.287,"y":0.29},{"p":"c","l":30,"s":"F","x":0.287,"y":0.29},{"p":"c","l":30,"s":"F","x":0.5,"y":0.5},{"p":"c","l":30,"s":"F","x":0.5,"y":0.5},{"p":"c","l":30,"s":"F","x":0.713,"y":0.29},{"p":"c","l":30,"s":"R","x":0.713,"y":0.29},{"p":"c","l":30,"s":"R","x":0.775,"y":0.317},{"p":"c","l":30,"s":"R","x":0.853,"y":0.336},{"p":"c","l":30,"s":"R","x":1,"y":0.341},{"p":"c","l":30,"s":"F","x":1,"y":0.341},{"p":"c","l":30,"s":"F","x":1,"y":0},{"p":"c","l":30,"s":"F","x":1,"y":0},{"p":"c","l":30,"s":"F","x":0,"y":0},{"p":"c","l":30,"s":"F","x":0,"y":0},
{"p":"c","l":20,"x":0,"y":0.301},{"p":"c","l":20,"x":0.147,"y":0.3},{"p":"c","l":20,"x":0.225,"y":0.287},{"p":"c","l":20,"x":0.265,"y":0.27},{"p":"c","l":20,"s":"F","x":0.265,"y":0.27},{"p":"c","l":20,"s":"F","x":0.5,"y":0.5},{"p":"c","l":20,"s":"F","x":0.5,"y":0.5},{"p":"c","l":20,"s":"F","x":0.735,"y":0.27},{"p":"c","l":20,"s":"R","x":0.735,"y":0.27},{"p":"c","l":20,"s":"R","x":0.775,"y":0.287},{"p":"c","l":20,"s":"R","x":0.853,"y":0.3},{"p":"c","l":20,"s":"R","x":1,"y":0.301},{"p":"c","l":20,"s":"F","x":1,"y":0.301},{"p":"c","l":20,"s":"F","x":1,"y":0},{"p":"c","l":20,"s":"F","x":1,"y":0},{"p":"c","l":20,"s":"F","x":0,"y":0},{"p":"c","l":20,"s":"F","x":0,"y":0},
{"p":"c","l":10,"x":0,"y":0.265},{"p":"c","l":10,"x":0.147,"y":0.265},{"p":"c","l":10,"x":0.217,"y":0.26},{"p":"c","l":10,"x":0.252,"y":0.256},{"p":"c","l":10,"s":"F","x":0.252,"y":0.256},{"p":"c","l":10,"s":"F","x":0.5,"y":0.5},{"p":"c","l":10,"s":"F","x":0.5,"y":0.5},{"p":"c","l":10,"s":"F","x":0.748,"y":0.256},{"p":"c","l":10,"s":"R","x":0.748,"y":0.256},{"p":"c","l":10,"s":"R","x":0.783,"y":0.26},{"p":"c","l":10,"s":"R","x":0.853,"y":0.265},{"p":"c","l":10,"s":"R","x":1,"y":0.265},{"p":"c","l":10,"s":"F","x":1,"y":0.265},{"p":"c","l":10,"s":"F","x":1,"y":0},{"p":"c","l":10,"s":"F","x":1,"y":0},{"p":"c","l":10,"s":"F","x":0,"y":0},{"p":"c","l":10,"s":"F","x":0,"y":0},
{"p":"c","l":0,"x":0,"y":0.234},{"p":"c","l":0,"x":0.147,"y":0.243},{"p":"c","l":0,"x":0.217,"y":0.25},{"p":"c","l":0,"x":0.252,"y":0.254},{"p":"c","l":0,"s":"F","x":0.252,"y":0.254},{"p":"c","l":0,"s":"F","x":0.5,"y":0.5},{"p":"c","l":0,"s":"F","x":0.5,"y":0.5},{"p":"c","l":0,"s":"F","x":0.748,"y":0.254},{"p":"c","l":0,"s":"R","x":0.748,"y":0.254},{"p":"c","l":0,"s":"R","x":0.783,"y":0.25},{"p":"c","l":0,"s":"R","x":0.853,"y":0.243},{"p":"c","l":0,"s":"R","x":1,"y":0.234},{"p":"c","l":0,"s":"F","x":1,"y":0.234},{"p":"c","l":0,"s":"F","x":1,"y":0},{"p":"c","l":0,"s":"F","x":1,"y":0},{"p":"c","l":0,"s":"F","x":0,"y":0},{"p":"c","l":0,"s":"F","x":0,"y":0},
{"p":"c","l":-10,"x":0,"y":0.204},{"p":"c","l":-10,"x":0.147,"y":0.217},{"p":"c","l":-10,"x":0.217,"y":0.236},{"p":"c","l":-10,"x":0.256,"y":0.252},{"p":"c","l":-10,"s":"F","x":0.256,"y":0.252},{"p":"c","l":-10,"s":"F","x":0.5,"y":0.5},{"p":"c","l":-10,"s":"F","x":0.5,"y":0.5},{"p":"c","l":-10,"s":"F","x":0.744,"y":0.252},{"p":"c","l":-10,"s":"R","x":0.744,"y":0.252},{"p":"c","l":-10,"s":"R","x":0.783,"y":0.236},{"p":"c","l":-10,"s":"R","x":0.853,"y":0.217},{"p":"c","l":-10,"s":"R","x":1,"y":0.204},{"p":"c","l":-10,"s":"F","x":1,"y":0.204},{"p":"c","l":-10,"s":"F","x":1,"y":0},{"p":"c","l":-10,"s":"F","x":1,"y":0},{"p":"c","l":-10,"s":"F","x":0,"y":0},{"p":"c","l":-10,"s":"F","x":0,"y":0},
{"p":"c","l":-20,"x":0,"y":0.174},{"p":"c","l":-20,"x":0.131,"y":0.187},{"p":"c","l":-20,"x":0.217,"y":0.213},{"p":"c","l":-20,"x":0.248,"y":0.238},{"p":"c","l":-20,"x":0.258,"y":0.252},{"p":"c","l":-20,"s":"F","x":0.258,"y":0.252},{"p":"c","l":-20,"s":"F","x":0.5,"y":0.5},{"p":"c","l":-20,"s":"F","x":0.5,"y":0.5},{"p":"c","l":-20,"s":"F","x":0.742,"y":0.252},{"p":"c","l":-20,"s":"R","x":0.742,"y":0.252},{"p":"c","l":-20,"s":"R","x":0.752,"y":0.238},{"p":"c","l":-20,"s":"R","x":0.783,"y":0.213},{"p":"c","l":-20,"s":"R","x":0.869,"y":0.187},{"p":"c","l":-20,"s":"R","x":1,"y":0.174},{"p":"c","l":-20,"s":"F","x":1,"y":0.174},{"p":"c","l":-20,"s":"F","x":1,"y":0},{"p":"c","l":-20,"s":"F","x":1,"y":0},{"p":"c","l":-20,"s":"F","x":0,"y":0},{"p":"c","l":-20,"s":"F","x":0,"y":0},
{"p":"c","l":-30,"x":0,"y":0.147},{"p":"c","l":-30,"x":0.131,"y":0.161},{"p":"c","l":-30,"x":0.225,"y":0.187},{"p":"c","l":-30,"x":0.26,"y":0.217},{"p":"c","l":-30,"x":0.266,"y":0.239},{"p":"c","l":-30,"x":0.26,"y":0.253},{"p":"c","l":-30,"s":"F","x":0.26,"y":0.253},{"p":"c","l":-30,"s":"F","x":0.5,"y":0.5},{"p":"c","l":-30,"s":"F","x":0.5,"y":0.5},{"p":"c","l":-30,"s":"F","x":0.74,"y":0.253},{"p":"c","l":-30,"s":"R","x":0.74,"y":0.253},{"p":"c","l":-30,"s":"R","x":0.734,"y":0.239},{"p":"c","l":-30,"s":"R","x":0.74,"y":0.217},{"p":"c","l":-30,"s":"R","x":0.775,"y":0.187},{"p":"c","l":-30,"s":"R","x":0.869,"y":0.161},{"p":"c","l":-30,"s":"R","x":1,"y":0.147},{"p":"c","l":-30,"s":"F","x":1,"y":0.147},{"p":"c","l":-30,"s":"F","x":1,"y":0},{"p":"c","l":-30,"s":"F","x":1,"y":0},{"p":"c","l":-30,"s":"F","x":0,"y":0},{"p":"c","l":-30,"s":"F","x":0,"y":0},
{"p":"c","l":-40,"x":0,"y":0.123},{"p":"c","l":-40,"x":0.147,"y":0.139},{"p":"c","l":-40,"x":0.248,"y":0.184},{"p":"c","l":-40,"x":0.295,"y":0.224},{"p":"c","l":-40,"x":0.309,"y":0.258},{"p":"c","l":-40,"x":0.301,"y":0.28},{"p":"c","l":-40,"x":0.299,"y":0.297},{"p":"c","l":-40,"s":"F","x":0.299,"y":0.297},{"p":"c","l":-40,"s":"F","x":0.5,"y":0.5},{"p":"c","l":-40,"s":"F","x":0.5,"y":0.5},{"p":"c","l":-40,"s":"F","x":0.701,"y":0.297},{"p":"c","l":-40,"s":"R","x":0.701,"y":0.297},{"p":"c","l":-40,"s":"R","x":0.699,"y":0.28},{"p":"c","l":-40,"s":"R","x":0.691,"y":0.258},{"p":"c","l":-40,"s":"R","x":0.705,"y":0.224},{"p":"c","l":-40,"s":"R","x":0.752,"y":0.184},{"p":"c","l":-40,"s":"R","x":0.853,"y":0.139},{"p":"c","l":-40,"s":"R","x":1,"y":0.123},{"p":"c","l":-40,"s":"F","x":1,"y":0.123},{"p":"c","l":-40,"s":"F","x":1,"y":0},{"p":"c","l":-40,"s":"F","x":1,"y":0},{"p":"c","l":-40,"s":"F","x":0,"y":0},{"p":"c","l":-40,"s":"F","x":0,"y":0},
{"p":"c","l":-50,"x":0,"y":0.1},{"p":"c","l":-50,"x":0.186,"y":0.121},{"p":"c","l":-50,"x":0.303,"y":0.169},{"p":"c","l":-50,"x":0.381,"y":0.224},{"p":"c","l":-50,"x":0.444,"y":0.248},{"p":"c","l":-50,"x":0.5,"y":0.252},{"p":"c","l":-50,"x":0.556,"y":0.248},{"p":"c","l":-50,"x":0.619,"y":0.224},{"p":"c","l":-50,"x":0.697,"y":0.169},{"p":"c","l":-50,"x":0.814,"y":0.121},{"p":"c","l":-50,"x":1,"y":0.1},{"p":"c","l":-50,"s":"F","x":1,"y":0.1},{"p":"c","l":-50,"s":"F","x":1,"y":0},{"p":"c","l":-50,"s":"F","x":1,"y":0},{"p":"c","l":-50,"s":"F","x":0,"y":0},{"p":"c","l":-50,"s":"F","x":0,"y":0},
{"p":"c","l":-60,"x":0,"y":0.077},{"p":"c","l":-60,"x":0.186,"y":0.099},{"p":"c","l":-60,"x":0.342,"y":0.139},{"p":"c","l":-60,"x":0.428,"y":0.159},{"p":"c","l":-60,"x":0.5,"y":0.164},{"p":"c","l":-60,"x":0.572,"y":0.159},{"p":"c","l":-60,"x":0.658,"y":0.139},{"p":"c","l":-60,"x":0.814,"y":0.099},{"p":"c","l":-60,"x":1,"y":0.077},{"p":"c","l":-60,"s":"F","x":1,"y":0.077},{"p":"c","l":-60,"s":"F","x":1,"y":0},{"p":"c","l":-60,"s":"F","x":1,"y":0},{"p":"c","l":-60,"s":"F","x":0,"y":0},{"p":"c","l":-60,"s":"F","x":0,"y":0},
{"p":"c","l":-70,"x":0,"y":0.056},{"p":"c","l":-70,"x":0.225,"y":0.08},{"p":"c","l":-70,"x":0.381,"y":0.104},{"p":"c","l":-70,"x":0.5,"y":0.11},{"p":"c","l":-70,"x":0.619,"y":0.104},{"p":"c","l":-70,"x":0.775,"y":0.08},{"p":"c","l":-70,"x":1,"y":0.056},{"p":"c","l":-70,"s":"F","x":1,"y":0.056},{"p":"c","l":-70,"s":"F","x":1,"y":0},{"p":"c","l":-70,"s":"F","x":1,"y":0},{"p":"c","l":-70,"s":"F","x":0,"y":0},{"p":"c","l":-70,"s":"F","x":0,"y":0},
{"p":"c","l":-80,"x":0,"y":0.037},{"p":"c","l":-80,"x":0.225,"y":0.05},{"p":"c","l":-80,"x":0.381,"y":0.064},{"p":"c","l":-80,"x":0.5,"y":0.067},{"p":"c","l":-80,"x":0.619,"y":0.064},{"p":"c","l":-80,"x":0.775,"y":0.05},{"p":"c","l":-80,"x":1,"y":0.037},{"p":"c","l":-80,"s":"F","x":1,"y":0.037},{"p":"c","l":-80,"s":"F","x":1,"y":0},{"p":"c","l":-80,"s":"F","x":1,"y":0},{"p":"c","l":-80,"s":"F","x":0,"y":0},{"p":"c","l":-80,"s":"F","x":0,"y":0},
{"p":"c","l":-90,"x":0,"y":0.017},{"p":"c","l":-90,"x":0.225,"y":0.023},{"p":"c","l":-90,"x":0.381,"y":0.03},{"p":"c","l":-90,"x":0.5,"y":0.03},{"p":"c","l":-90,"x":0.619,"y":0.03},{"p":"c","l":-90,"x":0.775,"y":0.023},{"p":"c","l":-90,"x":1,"y":0.017},{"p":"c","l":-90,"s":"F","x":1,"y":0.017},{"p":"c","l":-90,"s":"F","x":1,"y":0},{"p":"c","l":-90,"s":"F","x":1,"y":0},{"p":"c","l":-90,"s":"F","x":0,"y":0},{"p":"c","l":-90,"s":"F","x":0,"y":0}
]},
"spec":{
"width":1196,
"height":1062,
"encoding":{
"x":{"field":"x","type":"quantitative","scale":{"domain":[-0.16518,1.16964],"nice":false,"zero":false},
"axis":{"orient":"bottom","offset":-120,"values":[0,0.2,0.4,0.6,0.8,1],"format":".1~f","domain":false,"grid":false,"ticks":true,"tickSize":-22,"tickWidth":3,"tickColor":"black","labelFont":"Liberation Sans","labelFontSize":32,"labelColor":"black","labelPadding":32,"labelFlush":false,"labelOverlap":false,"title":"x(m)","titleFont":"Liberation Sans","titleFontSize":27,"titleFontWeight":"bold","titleColor":"black","titleX":596,"titlePadding":-1,"zindex":1}},
"y":{"field":"y","type":"quantitative","scale":{"domain":[-0.1467,1.15159],"nice":false,"zero":false},
"axis":{"orient":"left","offset":-148,"values":[0,0.2,0.4,0.6,0.8,1],"format":".1~f","domain":false,"grid":false,"ticks":true,"tickSize":-22,"tickWidth":3,"tickColor":"black","labelFont":"Liberation Sans","labelFontSize":32,"labelColor":"black","labelPadding":35,"labelFlush":false,"labelOverlap":false,"title":"y(m)","titleFont":"Liberation Sans","titleFontSize":27,"titleFontWeight":"bold","titleColor":"black","titleY":533,"titlePadding":-22,"zindex":1}}
},
"layer":[
{"data":{"name":"plot"},"mark":{"type":"rect"},"encoding":{"x2":{"field":"x2"},"y2":{"field":"y2"},"fill":{"field":"l","type":"nominal","legend":null,"scale":{"domain":[110,100,90,80,70,60,50,40,30,20,10,0,-10,-20,-30,-40,-50,-60,-70,-80,-90,-100],"range":["#ff0000","#ff3000","#ff6000","#ff9000","#ffc000","#fff000","#ccff00","#80ff00","#00ff00","#00ff00","#00ff00","#00ff00","#00ff40","#00ff70","#00ffa0","#00ffd0","#00ffff","#00c0ff","#0090ff","#0060ff","#0030ff","#0000ff"]}}}},
{"transform":[{"filter":"isValid(datum.l)"}],"mark":{"type":"line","interpolate":"catmull-rom","strokeWidth":0,"stroke":null},"encoding":{"fill":{"field":"l","type":"nominal","legend":null},"detail":{"field":"l"},"order":{"value":null}}},
{"transform":[{"filter":"isValid(datum.l) && datum.s != 'F'"}],"mark":{"type":"line","interpolate":"catmull-rom","stroke":"black","strokeWidth":2.4},"encoding":{"detail":[{"field":"l"},{"field":"s"}],"order":{"value":null}}},
{"data":{"name":"xticks"},"mark":{"type":"rule","color":"black","strokeWidth":1.5},"encoding":{"y2":{"field":"y2"}}},
{"data":{"name":"yticks"},"mark":{"type":"rule","color":"black","strokeWidth":1.5},"encoding":{"x2":{"field":"x2"}}},
{"data":{"name":"xmajor"},"mark":{"type":"rule","color":"black","strokeWidth":3},"encoding":{"y2":{"field":"y2"}}},
{"data":{"name":"ymajor"},"mark":{"type":"rule","color":"black","strokeWidth":3},"encoding":{"x2":{"field":"x2"}}},
{"data":{"name":"plates"},"mark":{"type":"line","color":"black","strokeWidth":13,"strokeCap":"butt"},"encoding":{"detail":{"field":"id"},"order":{"value":null}}},
{"data":{"name":"plot"},"mark":{"type":"rect","fillOpacity":0,"stroke":"black","strokeWidth":3},"encoding":{"x2":{"field":"x2"},"y2":{"field":"y2"}}},
{"data":{"name":"plot"},"mark":{"type":"rect","fill":"white","stroke":"#333","strokeWidth":1.5},"encoding":{"x":{"datum":1.0056},"x2":{"datum":1.1585},"y":{"datum":0.957},"y2":{"datum":0.05}}},
{"data":{"name":"cells"},"mark":{"type":"rect","stroke":"#555","strokeWidth":0.7},"encoding":{"x2":{"field":"x2"},"y2":{"field":"y2"},"fill":{"field":"l","type":"nominal","legend":null}}},
{"data":{"name":"labels"},"mark":{"type":"text","align":"left","baseline":"middle","fontSize":25,"font":"Liberation Sans","color":"black"},"encoding":{"text":{"field":"t"}}},
{"data":{"name":"plot"},"mark":{"type":"text","align":"center","baseline":"middle","fontSize":26,"font":"Liberation Sans","color":"black"},"encoding":{"x":{"datum":1.1066},"y":{"datum":0.929},"text":{"value":"Temp"}}},
{"transform":[{"filter":"datum.c == '(' || datum.c == ')'"}],"mark":{"type":"text","align":"center","baseline":"middle","fontSize":78,"font":"Liberation Serif","color":"black"},"encoding":{"text":{"field":"c"}}},
{"transform":[{"filter":"isValid(datum.c) && datum.c != '(' && datum.c != ')'"}],"mark":{"type":"text","align":"center","baseline":"middle","fontSize":78,"fontWeight":"bold","font":"Liberation Serif","color":"black"},"encoding":{"text":{"field":"c"}}}
]
}
}
